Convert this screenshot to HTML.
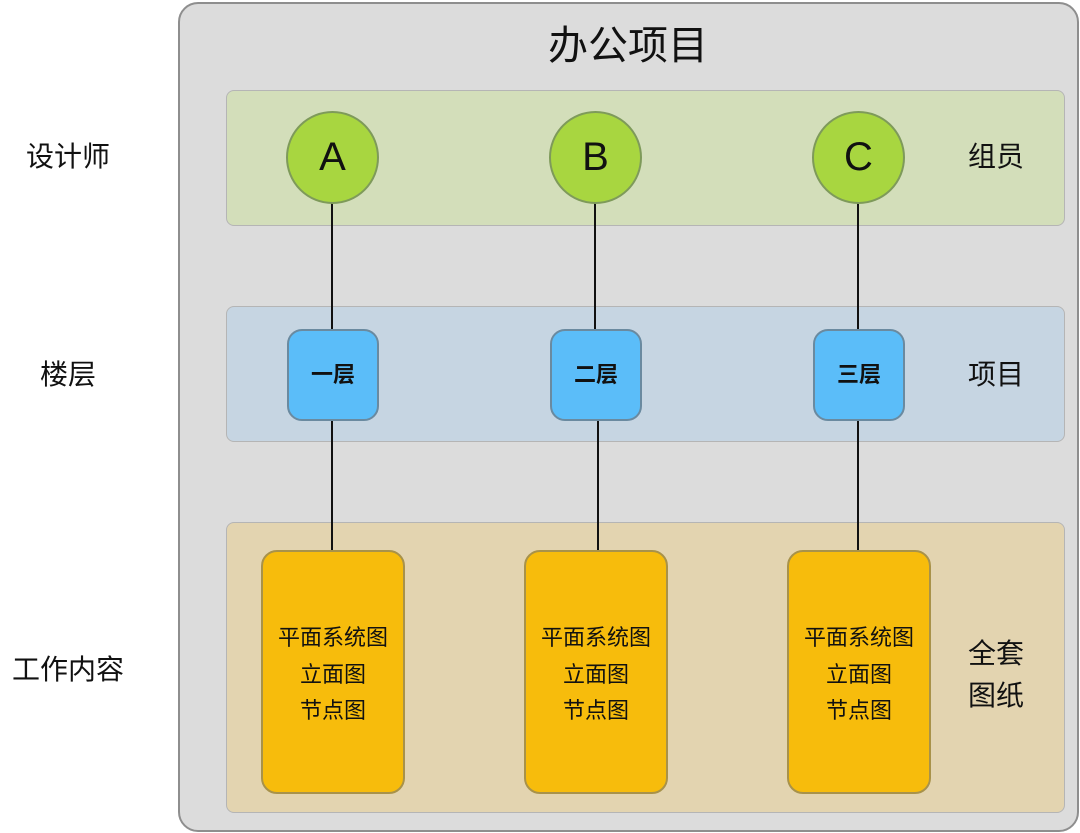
<!DOCTYPE html>
<html><head><meta charset="utf-8"><style>
body{margin:0;width:1080px;height:833px;background:#fff;overflow:hidden;position:relative;font-family:"Liberation Sans","Noto Sans CJK SC",sans-serif;color:#111}
div{position:absolute;box-sizing:border-box}
.t{white-space:nowrap;text-align:center}
.band{left:226px;width:839px;height:136px;border-radius:8px;border:1.5px solid #b5b5b5}
.circ{width:93px;height:93px;border-radius:50%;background:#a8d640;border:2px solid #7e9a5a;top:111px;font-size:40px;line-height:89px;text-align:center}
.sq{width:92px;height:92px;border-radius:15px;background:#5bbdf9;border:2px solid #6a8aa0;top:329px;font-size:22px;font-weight:bold;line-height:88px;text-align:center}
.y{width:144px;height:244px;border-radius:16px;background:#f7bc0c;border:2px solid #a8924a;top:550px;font-size:22px;line-height:36.5px;text-align:center;padding-top:68px}
.v{width:2px;background:#111}
.lab{font-size:28px;line-height:34px}
</style></head><body>
<div style="left:178px;top:2px;width:901px;height:830px;border-radius:20px;background:#dcdcdc;border:2px solid #8e8e8e"></div>
<div class="t" style="left:478px;top:20px;width:300px;font-size:40px;line-height:52px">办公项目</div>
<div class="band" style="top:90px;background:#d3deba"></div>
<div class="band" style="top:306px;background:#c6d5e2"></div>
<div class="band" style="top:522px;height:291px;background:#e3d4b0"></div>
<div class="v" style="left:331px;top:200px;height:130px"></div>
<div class="v" style="left:594px;top:200px;height:130px"></div>
<div class="v" style="left:857px;top:200px;height:130px"></div>
<div class="v" style="left:331px;top:419px;height:132px"></div>
<div class="v" style="left:597px;top:419px;height:132px"></div>
<div class="v" style="left:857px;top:419px;height:132px"></div>
<div class="circ" style="left:286px">A</div>
<div class="circ" style="left:549px">B</div>
<div class="circ" style="left:812px">C</div>
<div class="sq" style="left:287px">一层</div>
<div class="sq" style="left:550px">二层</div>
<div class="sq" style="left:813px">三层</div>
<div class="y" style="left:261px">平面系统图<br>立面图<br>节点图</div>
<div class="y" style="left:524px">平面系统图<br>立面图<br>节点图</div>
<div class="y" style="left:787px">平面系统图<br>立面图<br>节点图</div>
<div class="t lab" style="left:0;width:136px;top:140px">设计师</div>
<div class="t lab" style="left:0;width:136px;top:358px">楼层</div>
<div class="t lab" style="left:0;width:136px;top:653px">工作内容</div>
<div class="t lab" style="left:946px;width:100px;top:140px">组员</div>
<div class="t lab" style="left:946px;width:100px;top:358px">项目</div>
<div class="t lab" style="left:946px;width:100px;top:633px;line-height:42px">全套<br>图纸</div>
</body></html>
